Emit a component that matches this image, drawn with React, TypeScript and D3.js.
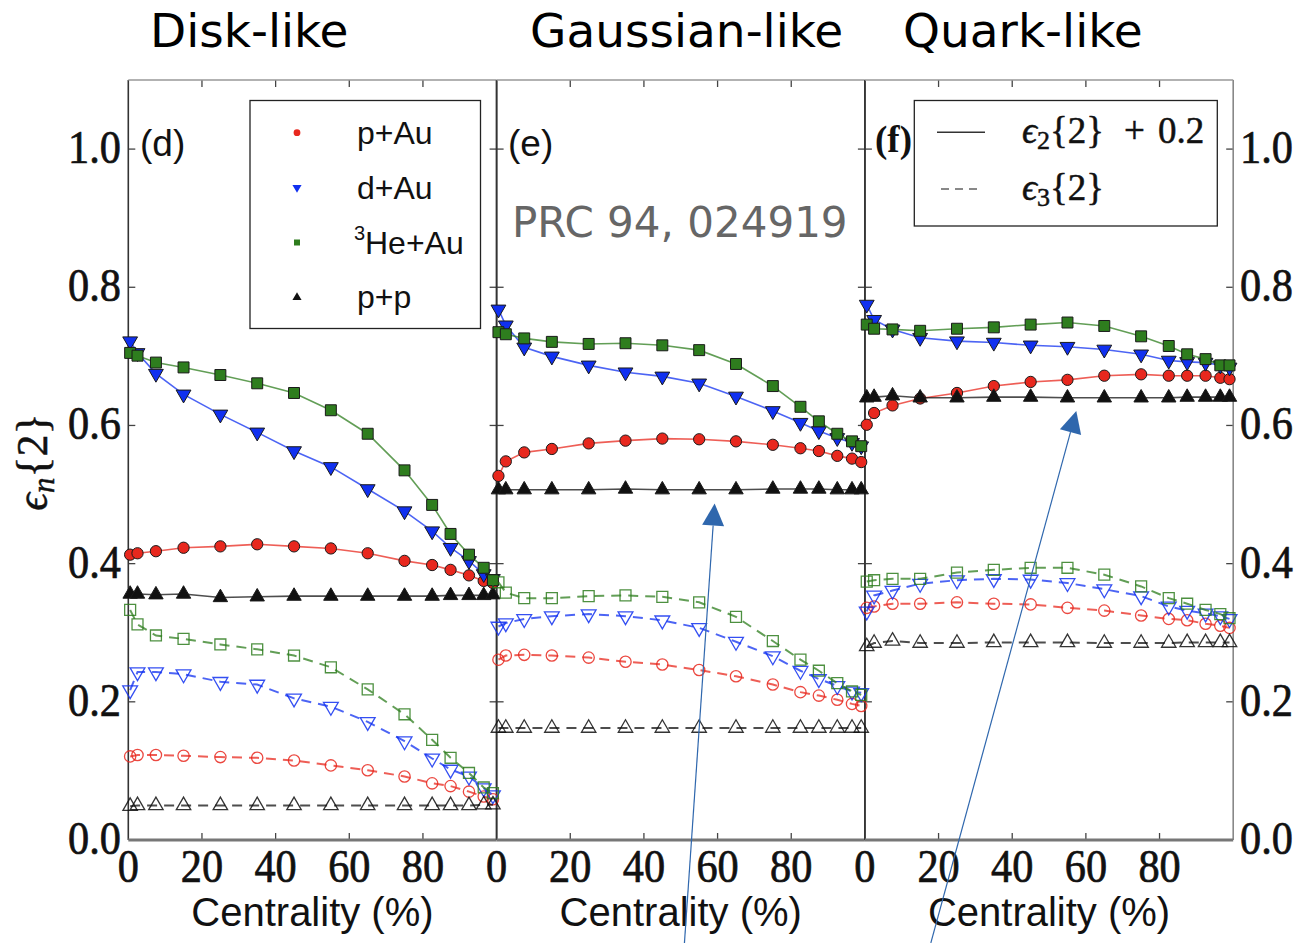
import React from "react";
import * as d3 from "d3";

// Centrality bin centres (%) shared by all panels
const CENTRALITY = [0.5, 2.5, 7.5, 15, 25, 35, 45, 55, 65, 75, 82.5, 87.5, 92.5, 96.5, 99];

const PANEL_TITLES = ["Disk-like", "Gaussian-like", "Quark-like"];
const PANEL_TAGS = ["(d)", "(e)", "(f)"];
const SYSTEMS = ["p+Au", "d+Au", "He+Au", "p+p"];
const SYSTEM_COLORS = ["#e8281e", "#1030f0", "#2e7d1e", "#111111"];
const E2_OFFSET = 0.2;
const Y_TICKS = [0, 0.2, 0.4, 0.6, 0.8, 1.0];
const X_TICKS = [0, 20, 40, 60, 80];

// eps2{2} (drawn with +0.2 offset), per panel, per system
const DISK_E2_PAU = [0.213, 0.215, 0.218, 0.223, 0.225, 0.228, 0.225, 0.222, 0.215, 0.204, 0.198, 0.191, 0.183, 0.175, 0.172];
const DISK_E2_DAU = [0.522, 0.505, 0.475, 0.445, 0.416, 0.390, 0.363, 0.340, 0.308, 0.276, 0.247, 0.223, 0.204, 0.185, 0.178];
const DISK_E2_HEAU = [0.505, 0.501, 0.491, 0.484, 0.473, 0.461, 0.447, 0.422, 0.388, 0.335, 0.285, 0.243, 0.213, 0.194, 0.176];
const DISK_E2_PP = [0.156, 0.156, 0.155, 0.156, 0.151, 0.152, 0.153, 0.153, 0.153, 0.153, 0.153, 0.154, 0.154, 0.154, 0.155];

const GAUSS_E2_PAU = [0.327, 0.348, 0.361, 0.366, 0.374, 0.378, 0.381, 0.380, 0.377, 0.372, 0.367, 0.363, 0.356, 0.352, 0.347];
const GAUSS_E2_DAU = [0.568, 0.545, 0.513, 0.500, 0.487, 0.477, 0.471, 0.461, 0.442, 0.421, 0.404, 0.392, 0.382, 0.375, 0.370];
const GAUSS_E2_HEAU = [0.535, 0.532, 0.526, 0.521, 0.518, 0.519, 0.516, 0.509, 0.489, 0.457, 0.427, 0.406, 0.388, 0.377, 0.370];
const GAUSS_E2_PP = [0.307, 0.307, 0.307, 0.307, 0.307, 0.308, 0.307, 0.307, 0.307, 0.308, 0.308, 0.308, 0.307, 0.307, 0.307];

const QUARK_E2_PAU = [0.401, 0.418, 0.429, 0.439, 0.447, 0.457, 0.463, 0.466, 0.472, 0.474, 0.472, 0.472, 0.472, 0.469, 0.467];
const QUARK_E2_DAU = [0.575, 0.553, 0.539, 0.527, 0.522, 0.520, 0.516, 0.514, 0.510, 0.503, 0.494, 0.492, 0.491, 0.487, 0.484];
const QUARK_E2_HEAU = [0.546, 0.540, 0.539, 0.537, 0.540, 0.542, 0.546, 0.549, 0.544, 0.529, 0.515, 0.503, 0.496, 0.487, 0.487];
const QUARK_E2_PP = [0.440, 0.441, 0.443, 0.440, 0.440, 0.441, 0.441, 0.440, 0.440, 0.440, 0.440, 0.441, 0.441, 0.441, 0.441];

// eps3{2}
const DISK_E3_PAU = [0.121, 0.123, 0.123, 0.122, 0.120, 0.119, 0.115, 0.108, 0.101, 0.092, 0.082, 0.078, 0.070, 0.063, 0.059];
const DISK_E3_DAU = [0.217, 0.243, 0.243, 0.240, 0.229, 0.225, 0.205, 0.193, 0.171, 0.143, 0.118, 0.102, 0.092, 0.075, 0.065];
const DISK_E3_HEAU = [0.333, 0.312, 0.296, 0.291, 0.283, 0.276, 0.267, 0.250, 0.218, 0.182, 0.145, 0.119, 0.097, 0.076, 0.068];
const DISK_E3_PP = [0.049, 0.050, 0.050, 0.050, 0.050, 0.050, 0.050, 0.050, 0.050, 0.050, 0.050, 0.050, 0.050, 0.051, 0.051];

const GAUSS_E3_PAU = [0.261, 0.267, 0.268, 0.267, 0.264, 0.258, 0.254, 0.246, 0.237, 0.225, 0.214, 0.209, 0.203, 0.197, 0.194];
const GAUSS_E3_DAU = [0.309, 0.314, 0.320, 0.324, 0.327, 0.324, 0.318, 0.307, 0.287, 0.266, 0.245, 0.233, 0.223, 0.215, 0.213];
const GAUSS_E3_HEAU = [0.373, 0.358, 0.350, 0.350, 0.353, 0.354, 0.352, 0.344, 0.323, 0.288, 0.261, 0.245, 0.227, 0.215, 0.210];
const GAUSS_E3_PP = [0.162, 0.162, 0.162, 0.162, 0.162, 0.162, 0.162, 0.162, 0.162, 0.162, 0.162, 0.162, 0.162, 0.162, 0.162];

const QUARK_E3_PAU = [0.336, 0.338, 0.342, 0.342, 0.344, 0.342, 0.341, 0.336, 0.332, 0.325, 0.320, 0.318, 0.313, 0.310, 0.307];
const QUARK_E3_DAU = [0.331, 0.354, 0.361, 0.371, 0.376, 0.378, 0.377, 0.372, 0.363, 0.353, 0.338, 0.332, 0.328, 0.324, 0.320];
const QUARK_E3_HEAU = [0.374, 0.376, 0.378, 0.378, 0.387, 0.391, 0.394, 0.394, 0.384, 0.367, 0.350, 0.342, 0.333, 0.327, 0.321];
const QUARK_E3_PP = [0.280, 0.285, 0.288, 0.285, 0.285, 0.286, 0.286, 0.286, 0.285, 0.285, 0.285, 0.286, 0.286, 0.286, 0.286];

const PANEL_E2 = [
  [DISK_E2_PAU, DISK_E2_DAU, DISK_E2_HEAU, DISK_E2_PP],
  [GAUSS_E2_PAU, GAUSS_E2_DAU, GAUSS_E2_HEAU, GAUSS_E2_PP],
  [QUARK_E2_PAU, QUARK_E2_DAU, QUARK_E2_HEAU, QUARK_E2_PP],
];
const PANEL_E3 = [
  [DISK_E3_PAU, DISK_E3_DAU, DISK_E3_HEAU, DISK_E3_PP],
  [GAUSS_E3_PAU, GAUSS_E3_DAU, GAUSS_E3_HEAU, GAUSS_E3_PP],
  [QUARK_E3_PAU, QUARK_E3_DAU, QUARK_E3_HEAU, QUARK_E3_PP],
];

// Annotation arrows, in panel data coordinates: [panel, x0, y0, x1, y1]
const ARROWS = [
  [1, 51.0, -0.149, 59.2, 0.487],
  [2, 17.9, -0.149, 57.4, 0.621],
];

const W = 1298;
const H = 943;
const PANEL_LEFT = 128.3;
const PANEL_W = 368.3;
const TOP = 80;
const BOTTOM = 840;

const y = d3.scaleLinear().domain([0, 1.1]).range([BOTTOM, TOP]);
const xScales = [0, 1, 2].map((i) =>
  d3.scaleLinear().domain([0, 100]).range([PANEL_LEFT + i * PANEL_W, PANEL_LEFT + (i + 1) * PANEL_W])
);

const SYMBOLS = [d3.symbolCircle, d3.symbolTriangle, d3.symbolSquare, d3.symbolTriangle];
const SYMBOL_SIZES = [100, 95, 120, 90];
const SYMBOL_ROT = [0, 180, 0, 0];

const serif = "'Liberation Serif', 'DejaVu Serif', serif";
const sans = "'Liberation Sans', Arial, sans-serif";
const dejavu = "'DejaVu Sans', sans-serif";

// Narrow, slightly heavy serif numerals for the axes
function Num({ x, yy, anchor, children }: any) {
  return (
    <text
      transform={`translate(${x},${yy}) scale(0.92,1)`}
      textAnchor={anchor}
      fontFamily={serif}
      fontSize={46}
      fill="#111"
      stroke="#111"
      strokeWidth={0.7}
    >
      {children}
    </text>
  );
}

function Markers({ xs, vals, s, open, offset }: any) {
  const path = d3.symbol().type(SYMBOLS[s]).size(SYMBOL_SIZES[s])()!;
  return (
    <g>
      {vals.map((v: number, i: number) => (
        <path
          key={i}
          d={path}
          transform={`translate(${xs(CENTRALITY[i])},${y(v + offset)}) rotate(${SYMBOL_ROT[s]})`}
          fill={open ? "none" : SYSTEM_COLORS[s]}
          stroke={open ? SYSTEM_COLORS[s] : "#1a1a1a"}
          strokeWidth={open ? 1.3 : 1}
          opacity={open ? 0.85 : 1}
        />
      ))}
    </g>
  );
}

function Panel({ p }: { p: number }) {
  const xs = xScales[p];
  const line = (offset: number) =>
    d3
      .line<number>()
      .x((_, i) => xs(CENTRALITY[i]))
      .y((v) => y(v + offset));
  return (
    <g>
      {PANEL_E3[p].map((vals, s) => (
        <g key={"e3" + s}>
          <path d={line(0)(vals)!} fill="none" stroke={SYSTEM_COLORS[s]} strokeWidth={2} strokeDasharray="10 7" opacity={0.75} />
          <Markers xs={xs} vals={vals} s={s} open offset={0} />
        </g>
      ))}
      {PANEL_E2[p].map((vals, s) => (
        <g key={"e2" + s}>
          <path d={line(E2_OFFSET)(vals)!} fill="none" stroke={SYSTEM_COLORS[s]} strokeWidth={1.6} opacity={0.75} />
          <Markers xs={xs} vals={vals} s={s} open={false} offset={E2_OFFSET} />
        </g>
      ))}
    </g>
  );
}

function Frame({ p }: { p: number }) {
  const xs = xScales[p];
  const [x0, x1] = xs.range();
  const tick = 7;
  return (
    <g stroke="#444" strokeWidth={1.3}>
      {X_TICKS.filter((t) => t > 0).map((t) => (
        <g key={t}>
          <line x1={xs(t)} x2={xs(t)} y1={BOTTOM} y2={BOTTOM - tick} />
          <line x1={xs(t)} x2={xs(t)} y1={TOP} y2={TOP + tick} />
        </g>
      ))}
      {Y_TICKS.filter((t) => t > 0).map((t) => (
        <g key={t}>
          <line x1={x0} x2={x0 + tick} y1={y(t)} y2={y(t)} />
          <line x1={x1} x2={x1 - tick} y1={y(t)} y2={y(t)} />
        </g>
      ))}
      <line x1={x0} x2={x0} y1={TOP} y2={BOTTOM} stroke="#333" strokeWidth={1.6} />
      <line x1={x1} x2={x1} y1={TOP} y2={BOTTOM} stroke={p === 2 ? "#888" : "#333"} strokeWidth={1.6} />
      <line x1={x0} x2={x1} y1={TOP} y2={TOP} stroke="#999" strokeWidth={1.5} />
      <line x1={x0} x2={x1} y1={BOTTOM} y2={BOTTOM} stroke="#777" strokeWidth={3} />
    </g>
  );
}

export default function App() {
  const fmt = d3.format(".1f");
  return (
    <svg width={W} height={H} style={{ position: "absolute", left: 0, top: 0, background: "#fff" }}>
      <rect width={W} height={H} fill="#fff" />

      {/* Column titles */}
      {PANEL_TITLES.map((t, i) => (
        <text key={t} x={[150, 530, 903][i]} y={47} fontFamily={dejavu} fontSize={47} fill="#000">
          {t}
        </text>
      ))}

      {[0, 1, 2].map((p) => (
        <Frame key={"f" + p} p={p} />
      ))}
      {[0, 1, 2].map((p) => (
        <Panel key={"p" + p} p={p} />
      ))}

      {/* Y tick labels, left and right */}
      {Y_TICKS.map((t) => (
        <g key={t}>
          <Num x={121} yy={y(t) + 14} anchor="end">{fmt(t)}</Num>
          <Num x={1240} yy={y(t) + 14} anchor="start">{fmt(t)}</Num>
        </g>
      ))}

      {/* X tick labels and axis titles */}
      {xScales.map((xs, p) => (
        <g key={"x" + p}>
          {X_TICKS.map((t) => (
            <Num key={t} x={xs(t)} yy={882} anchor="middle">{t}</Num>
          ))}
          <text x={(xs.range()[0] + xs.range()[1]) / 2} y={926} textAnchor="middle" fontFamily={sans} fontSize={40} fill="#111">
            Centrality (%)
          </text>
        </g>
      ))}

      {/* Y axis title */}
      <text transform="translate(47,462) rotate(-90)" textAnchor="middle" fontFamily={serif} fontSize={44} fill="#111" stroke="#111" strokeWidth={0.5}>
        <tspan fontStyle="italic">ϵ</tspan>
        <tspan fontStyle="italic" fontSize={31} dy={7}>n</tspan>
        <tspan dy={-7}>{"{2}"}</tspan>
      </text>

      {/* Panel tags */}
      <text x={140} y={156} fontFamily={sans} fontSize={37} fill="#111">{PANEL_TAGS[0]}</text>
      <text x={508} y={156} fontFamily={sans} fontSize={37} fill="#111">{PANEL_TAGS[1]}</text>
      <text x={875} y={152} fontFamily={serif} fontWeight="bold" fontSize={37} fill="#111">{PANEL_TAGS[2]}</text>

      {/* Reference tag */}
      <text x={512} y={237} fontFamily={dejavu} fontSize={42} fill="#666">PRC 94, 024919</text>

      {/* Legend: collision systems */}
      <g>
        <rect x={250} y={100.5} width={230.5} height={228} fill="#fff" stroke="#222" strokeWidth={1.3} />
        {SYSTEMS.map((name, s) => {
          const cy = 132.7 + s * 54.9;
          const path = d3.symbol().type(SYMBOLS[s]).size(36)()!;
          return (
            <g key={name}>
              <path d={path} transform={`translate(297,${cy}) rotate(${SYMBOL_ROT[s]})`} fill={SYSTEM_COLORS[s]} />
              {s === 2 ? (
                <g fontFamily={sans} fill="#111">
                  <text x={354} y={cy - 3} fontSize={20}>3</text>
                  <text x={365} y={cy + 11} fontSize={32}>{name}</text>
                </g>
              ) : (
                <text x={357} y={cy + 11} fontFamily={sans} fontSize={32} fill="#111">{name}</text>
              )}
            </g>
          );
        })}
      </g>

      {/* Legend: harmonics */}
      <g>
        <rect x={914.3} y={100.5} width={303} height={125.5} fill="#fff" stroke="#222" strokeWidth={1.3} />
        <line x1={937} x2={985} y1={132.3} y2={132.3} stroke="#333" strokeWidth={1.5} />
        <line x1={941} x2={979} y1={189} y2={189} stroke="#888" strokeWidth={2} strokeDasharray="8 6" />
        <g fontFamily={serif} fontSize={37} fill="#111" stroke="#111" strokeWidth={0.5}>
          <text x={1022} y={143}>
            <tspan fontStyle="italic">ϵ</tspan>
            <tspan fontSize={26} dy={6}>2</tspan>
            <tspan dy={-6}>{"{2}"}</tspan>
          </text>
          <text x={1124} y={143}>+</text>
          <text x={1158} y={143}>0.2</text>
          <text x={1022} y={200}>
            <tspan fontStyle="italic">ϵ</tspan>
            <tspan fontSize={26} dy={6}>3</tspan>
            <tspan dy={-6}>{"{2}"}</tspan>
          </text>
        </g>
      </g>

      {/* Annotation arrows */}
      {ARROWS.map(([p, ax0, ay0, ax1, ay1], i) => {
        const xs = xScales[p];
        const sx = xs(ax0), sy = y(ay0), ex = xs(ax1), ey = y(ay1);
        const ang = Math.atan2(ey - sy, ex - sx);
        const len = 22, half = 11;
        const bx = ex - len * Math.cos(ang), by = ey - len * Math.sin(ang);
        const nx = -Math.sin(ang), ny = Math.cos(ang);
        const head = `M${ex},${ey}L${bx + half * nx},${by + half * ny}L${bx - half * nx},${by - half * ny}Z`;
        return (
          <g key={i}>
            <line x1={sx} y1={sy} x2={bx} y2={by} stroke="#2f67ad" strokeWidth={1.2} />
            <path d={head} fill="#2f67ad" />
          </g>
        );
      })}
    </svg>
  );
}
